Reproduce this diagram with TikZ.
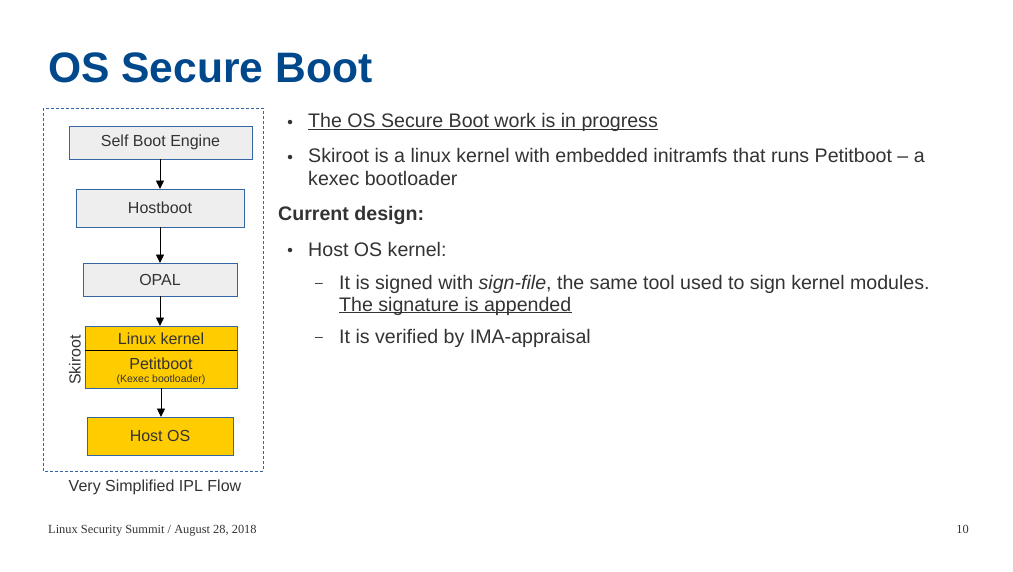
\documentclass[tikz,border=0pt]{standalone}
\usepackage{fontspec}
\setmainfont{Liberation Sans}
\newfontfamily\footfont{Liberation Serif}
\usetikzlibrary{arrows.meta}
\definecolor{titleblue}{RGB}{0,72,140}
\definecolor{boxblue}{RGB}{52,101,164}
\definecolor{boxgray}{RGB}{238,238,238}
\definecolor{skiyellow}{RGB}{255,204,0}
\definecolor{txt}{RGB}{51,51,51}
\begin{document}
\begin{tikzpicture}[x=1pt,y=-1pt,
  flowbox/.style={draw=boxblue,line width=0.9pt},
  graybox/.style={flowbox,fill=boxgray},
  yellowbox/.style={flowbox,fill=skiyellow},
  boxtext/.style={text=txt,font=\fontsize{16}{18}\selectfont},
  flowarrow/.style={draw=black,line width=0.8pt,-{Triangle[length=8.5pt,width=8pt]}},
  bodytext/.style={anchor=base west,inner sep=0pt,text=txt,font=\fontsize{19.6}{22}\selectfont},
  bulletmark/.style={circle,fill=txt,inner sep=0pt,minimum size=4.5pt},
  dashmark/.style={anchor=base west,inner sep=0pt,text=txt,font=\fontsize{14}{16}\selectfont},
  uline/.style={draw=txt,line width=0.8pt}
]
\useasboundingbox (0,0) rectangle (1013,571);
\fill[white] (0,0) rectangle (1013,571);

% title
\node[anchor=base west,inner sep=0pt,text=titleblue,font=\fontsize{42.6}{48}\selectfont\bfseries] (title) at (48,82.5) {OS Secure Boot};

% dashed frame
\draw[boxblue,line width=0.7pt,dash pattern=on 3pt off 2pt] (43,108) rectangle (263,471);

% flow boxes
\path[graybox] (69,126) rectangle (252,159);
\node[boxtext] (sbe) at (160.5,142.5) {Self Boot Engine};
\coordinate (sbeb) at (160,159);
\path[graybox] (76,189) rectangle (244,227);
\node[boxtext] (hb) at (160,208) {Hostboot};
\coordinate (hbt) at (160,189);
\coordinate (hbb) at (160,227);
\path[graybox] (83,263) rectangle (237,296);
\node[boxtext] (opal) at (160,279.5) {OPAL};
\coordinate (opt) at (160,263);
\coordinate (opb) at (160,296);
\path[yellowbox] (85,326) rectangle (237,388);
\draw[black,line width=0.8pt] (85,350) -- (237,350);
\node[boxtext] (lk) at (161,339) {Linux kernel};
\node[boxtext,anchor=base,inner sep=0pt] (pb) at (161,369) {Petitboot};
\node[anchor=base,inner sep=0pt,text=txt,font=\fontsize{10.5}{12}\selectfont] (kx) at (161,382) {(Kexec bootloader)};
\coordinate (skt) at (160,326);
\coordinate (skb) at (161,388);
\path[yellowbox] (87,417) rectangle (233,455);
\node[boxtext] (hos) at (160,436) {Host OS};
\coordinate (host) at (161,417);

\node[boxtext,rotate=90,inner sep=0pt] (ski) at (75,360) {Skiroot};

% arrows
\draw[flowarrow] (sbeb) -- (hbt);
\draw[flowarrow] (hbb) -- (opt);
\draw[flowarrow] (opb) -- (skt);
\draw[flowarrow] (skb) -- (host);

\node[boxtext] (cap) at (155,487) {Very Simplified IPL Flow};

% bullets
\node[bulletmark] (b1) at (290,122) {};
\node[bodytext] (t1) at (308,127.7) {The OS Secure Boot work is in progress};
\draw[uline] ([yshift=-1.8pt]t1.base west) -- ([yshift=-1.8pt]t1.base east);
\node[bulletmark] (b2) at (290,157) {};
\node[bodytext] (t2) at (308,162.7) {Skiroot is a linux kernel with embedded initramfs that runs Petitboot – a};
\node[bodytext] (t2b) at (308,185) {kexec bootloader};
\node[bodytext,font=\fontsize{19.6}{22}\selectfont\bfseries] (cd) at (278,220.5) {Current design:};
\node[bulletmark] (b3) at (290,250) {};
\node[bodytext] (t3) at (308,256) {Host OS kernel:};
\node[dashmark] (d1) at (315,287) {–};
\node[bodytext] (t4) at (339,289) {It is signed with \textit{sign-file}, the same tool used to sign kernel modules.};
\node[bodytext] (t4b) at (339,311) {The signature is appended};
\draw[uline] ([yshift=-1.8pt]t4b.base west) -- ([yshift=-1.8pt]t4b.base east);
\node[dashmark] (d2) at (315,341) {–};
\node[bodytext] (t5) at (339,343) {It is verified by IMA-appraisal};

% footer
\node[anchor=base west,inner sep=0pt,text=txt,font=\footfont\fontsize{12.4}{14}\selectfont] (foot) at (48,533) {Linux Security Summit / August 28, 2018};
\node[anchor=base east,inner sep=0pt,text=txt,font=\footfont\fontsize{12.4}{14}\selectfont] (pg) at (969,533) {10};
\end{tikzpicture}
\end{document}
